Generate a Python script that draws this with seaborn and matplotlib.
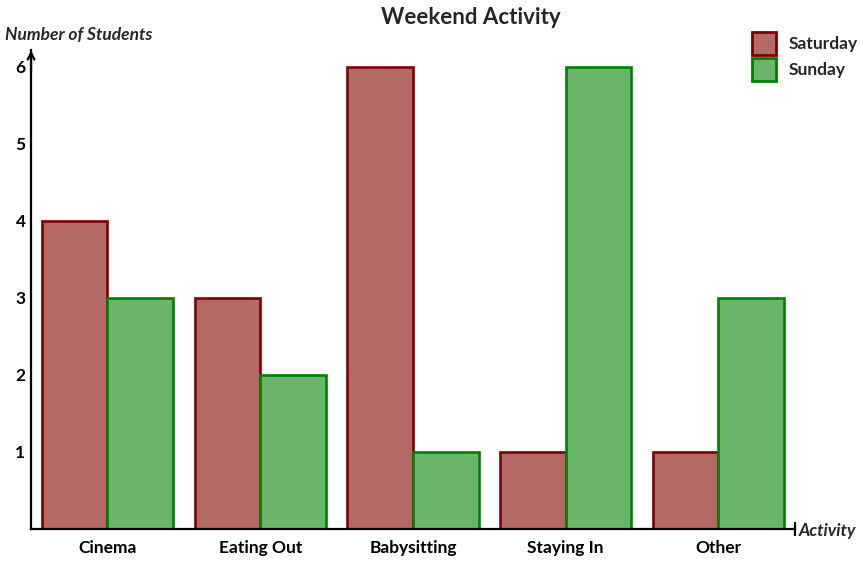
import pandas as pd
import matplotlib
matplotlib.use("Agg")
import matplotlib.pyplot as plt
import seaborn as sns
from matplotlib.patches import Patch

activities = ["Cinema", "Eating Out", "Babysitting", "Staying In", "Other"]
saturday = [4, 3, 6, 1, 1]
sunday = [3, 2, 1, 6, 3]
days = ["Saturday", "Sunday"]

fill_colors = {"Saturday": "#b36a66", "Sunday": "#6ab56a"}
edge_colors = {"Saturday": "#800000", "Sunday": "#008000"}

sns.set_style("white")
plt.rcParams["font.family"] = ["Lato", "DejaVu Sans"]

df = pd.DataFrame({
    "Activity": activities * 2,
    "Students": saturday + sunday,
    "Day": ["Saturday"] * len(activities) + ["Sunday"] * len(activities),
})

fig = plt.figure(figsize=(8.63, 5.62), dpi=100)
ax = fig.add_axes([0.036, 0.059, 0.885, 0.852])

sns.barplot(data=df, x="Activity", y="Students", hue="Day", order=activities,
            hue_order=days, palette=fill_colors, width=0.86, gap=0,
            saturation=1, legend=False, ax=ax)

# edge colour per series
for bars, day in zip(ax.containers, days):
    for b in bars:
        b.set_edgecolor(edge_colors[day])
        b.set_linewidth(1.9)

ax.set_xlim(-0.5, 4.5)
ax.set_ylim(0, 6.22)
ax.set_yticks(range(1, 7))
ax.set_xlabel("")
ax.set_ylabel("")

for s in ["top", "right"]:
    ax.spines[s].set_visible(False)
for s in ["left", "bottom"]:
    ax.spines[s].set_color("black")
    ax.spines[s].set_linewidth(1.6)

ax.tick_params(axis="y", direction="inout", length=8, width=1.5, pad=0,
               labelsize=12.5, colors="black")
ax.tick_params(axis="x", direction="out", length=2, width=1, pad=6,
               labelsize=12.5, colors="black")
for lbl in ax.get_xticklabels() + ax.get_yticklabels():
    lbl.set_fontweight("bold")

# arrow on y axis, end bar on x axis
ax.annotate("", xy=(0, 1.005), xytext=(0, 0.95), xycoords="axes fraction",
            arrowprops=dict(arrowstyle="->", color="black", lw=1.6,
                            mutation_scale=12))
ax.plot([1], [0], marker="|", markersize=10, markeredgewidth=1.6,
        color="black", transform=ax.transAxes, clip_on=False)

fig.text(0.006, 0.937, "Number of Students", fontsize=12.5, fontweight="bold",
         fontstyle="italic", ha="left", va="center")
fig.text(0.926, 0.056, "Activity", fontsize=12.5, fontweight="bold",
         fontstyle="italic", ha="left", va="center")
fig.text(0.546, 0.968, "Weekend Activity", fontsize=16, fontweight="bold",
         ha="center", va="center")

handles = [Patch(facecolor=fill_colors[d], edgecolor=edge_colors[d],
                 linewidth=2.0, label=d) for d in days]
leg = fig.legend(handles=handles, loc="upper left",
                 bbox_to_anchor=(0.871, 0.943), frameon=False, fontsize=12.5,
                 handlelength=1.4, handleheight=1.65, handletextpad=0.75,
                 labelspacing=0.2, borderaxespad=0, borderpad=0)
for t in leg.get_texts():
    t.set_fontweight("bold")

fig.savefig("out.png", dpi=100)
